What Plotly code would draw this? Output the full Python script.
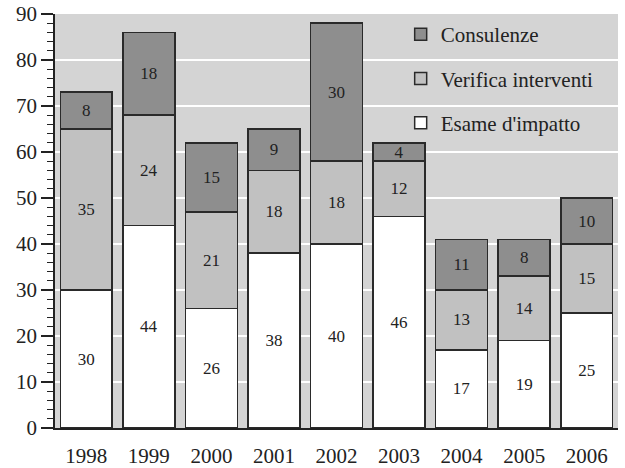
import plotly.graph_objects as go

years = ["1998", "1999", "2000", "2001", "2002", "2003", "2004", "2005", "2006"]
esame = [30, 44, 26, 38, 40, 46, 17, 19, 25]
verifica = [35, 24, 21, 18, 18, 12, 13, 14, 15]
consulenze = [8, 18, 15, 9, 30, 4, 11, 8, 10]

serif = "Liberation Serif, Times New Roman, serif"
edge = dict(color="#2a2a2a", width=1.5)

fig = go.Figure()
for rank, (name, vals, col) in enumerate([("Esame d'impatto", esame, "#ffffff"),
                                           ("Verifica interventi", verifica, "#c1c1c1"),
                                           ("Consulenze", consulenze, "#8e8e8e")]):
    fig.add_trace(go.Bar(
        x=years, y=vals, name=name, legendgroup=name, legendrank=3 - rank,
        marker=dict(color=col, line=edge),
        text=vals, textposition="inside", insidetextanchor="middle",
        constraintext="none", textangle=0,
        textfont=dict(family=serif, size=17, color="#222222"),
    ))

fig.update_layout(
    barmode="stack", bargap=0.17,
    width=625, height=468,
    margin=dict(l=55, r=7, t=14, b=40),
    paper_bgcolor="white", plot_bgcolor="#d4d4d4",
    font=dict(family=serif, size=21, color="#222222"),
    uniformtext=dict(minsize=17, mode="show"),
    legend=dict(x=0.614, y=1.0, xanchor="left", yanchor="top",
                traceorder="grouped", tracegroupgap=14,
                bgcolor="rgba(0,0,0,0)", itemwidth=30,
                font=dict(family=serif, size=21)),
)
fig.update_yaxes(
    range=[0, 90], dtick=10, showgrid=True, gridcolor="white", gridwidth=1.5,
    showline=True, linecolor="#222222", linewidth=1.5,
    ticks="outside", ticklen=12, tickwidth=1.5, tickcolor="#222222",
    minor=dict(dtick=2, ticks="outside", ticklen=6, tickwidth=1.2,
               tickcolor="#222222", showgrid=False),
    zeroline=False, automargin=False,
)
fig.update_xaxes(
    showline=True, linecolor="#222222", linewidth=1.5,
    ticks="outside", ticklen=8, tickcolor="rgba(0,0,0,0)", automargin=False,
)
# axis line continues left under the tick marks
fig.add_shape(type="line", xref="paper", yref="paper", x0=-0.024, x1=0, y0=0, y1=0,
              line=dict(color="#222222", width=1.5))

fig.write_html("out.html", config={"displayModeBar": False},
               post_script="document.body.style.margin='0';")
